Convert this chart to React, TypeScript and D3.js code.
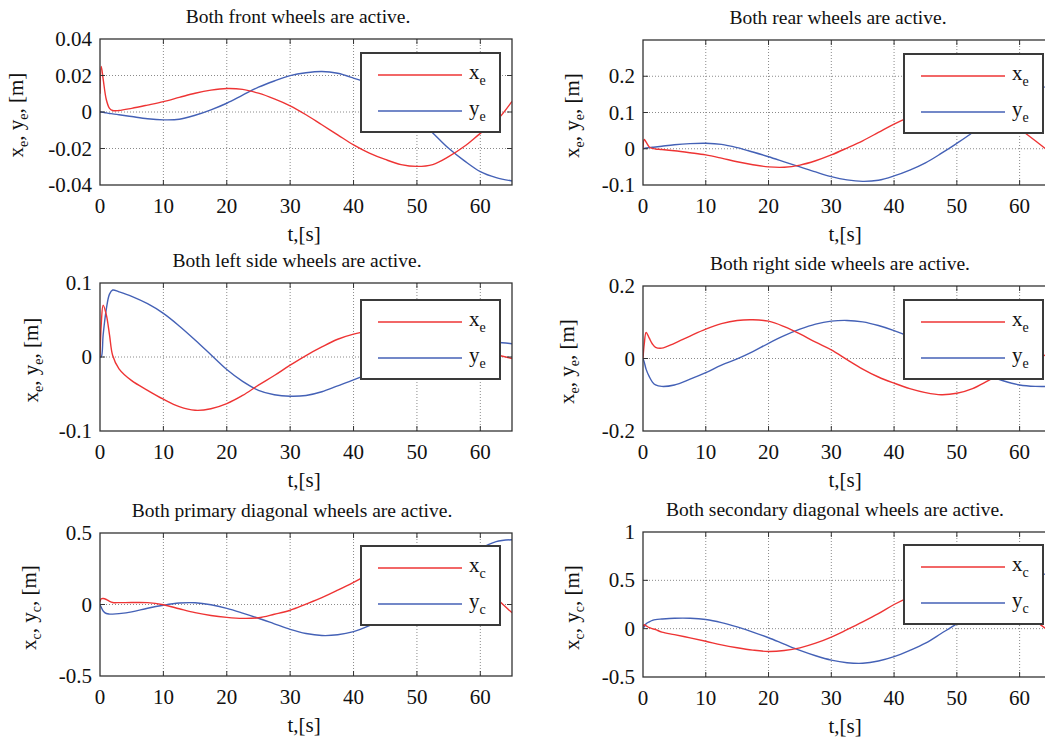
import React, { useEffect, useRef } from "react";
import * as d3 from "d3";

// time samples shared by every panel (s)
const tGrid = [0, 0.2, 0.5, 1, 1.5, 2, 3, 5, 7.5, 10, 12.5, 15, 17.5, 20, 22.5, 25, 27.5, 30, 32.5, 35, 37.5, 40, 42.5, 45, 47.5, 50, 52.5, 55, 57.5, 60, 62.5, 65];

// front wheels
const frontX = [0.010, 0.025, 0.018, 0.0067, 0.002, 0.0008, 0.0008, 0.002, 0.0038, 0.0057, 0.008, 0.0103, 0.012, 0.0129, 0.0124, 0.0103, 0.0072, 0.0034, -0.0015, -0.007, -0.0125, -0.018, -0.0225, -0.026, -0.0288, -0.0298, -0.0288, -0.0245, -0.0188, -0.0117, -0.005, 0.0058];
const frontY = [0, 0, -0.0002, -0.0005, -0.0008, -0.001, -0.0015, -0.0025, -0.0037, -0.0043, -0.004, -0.0018, 0.0012, 0.0048, 0.0092, 0.0136, 0.017, 0.0199, 0.0215, 0.0222, 0.0212, 0.0186, 0.0155, 0.0105, 0.004, -0.0035, -0.0115, -0.0199, -0.0268, -0.0327, -0.036, -0.0378];

// rear wheels
const rearX = [0, 0.026, 0.018, 0.005, 0.001, -0.0005, -0.002, -0.0055, -0.011, -0.017, -0.026, -0.036, -0.044, -0.05, -0.051, -0.045, -0.033, -0.017, 0.002, 0.022, 0.045, 0.068, 0.088, 0.105, 0.118, 0.125, 0.122, 0.11, 0.088, 0.055, 0.022, -0.012];
const rearY = [0, 0.001, 0.002, 0.003, 0.004, 0.005, 0.007, 0.011, 0.014, 0.015, 0.012, 0.003, -0.009, -0.022, -0.036, -0.05, -0.064, -0.077, -0.086, -0.09, -0.087, -0.075, -0.059, -0.039, -0.013, 0.015, 0.045, 0.08, 0.11, 0.14, 0.162, 0.175];

// left side wheels
const leftX = [0, 0.045, 0.07, 0.057, 0.03, 0.002, -0.016, -0.032, -0.045, -0.057, -0.067, -0.072, -0.07, -0.063, -0.052, -0.038, -0.025, -0.011, 0.002, 0.0136, 0.024, 0.031, 0.035, 0.035, 0.033, 0.029, 0.024, 0.019, 0.013, 0.008, 0.003, -0.002];
const leftY = [0, 0, 0.03, 0.065, 0.085, 0.0905, 0.088, 0.082, 0.072, 0.059, 0.042, 0.023, 0.003, -0.017, -0.033, -0.045, -0.051, -0.053, -0.052, -0.047, -0.039, -0.031, -0.022, -0.012, -0.004, 0.003, 0.009, 0.014, 0.018, 0.02, 0.02, 0.018];

// right side wheels
const rightX = [0, 0.04, 0.072, 0.056, 0.04, 0.031, 0.0285, 0.042, 0.062, 0.081, 0.096, 0.105, 0.107, 0.103, 0.088, 0.068, 0.045, 0.024, -0.003, -0.029, -0.051, -0.068, -0.083, -0.094, -0.1, -0.096, -0.083, -0.061, -0.038, -0.016, 0.001, 0.013];
const rightY = [0, -0.01, -0.03, -0.05, -0.065, -0.073, -0.077, -0.073, -0.057, -0.039, -0.018, -0.001, 0.019, 0.042, 0.063, 0.081, 0.095, 0.103, 0.105, 0.101, 0.091, 0.077, 0.06, 0.04, 0.018, -0.005, -0.027, -0.047, -0.062, -0.073, -0.077, -0.077];

// primary diagonal wheels
const primX = [0.02, 0.04, 0.042, 0.035, 0.022, 0.014, 0.013, 0.014, 0.013, -0.002, -0.03, -0.057, -0.077, -0.09, -0.097, -0.093, -0.068, -0.04, 0.003, 0.048, 0.1, 0.155, 0.215, 0.27, 0.31, 0.33, 0.33, 0.3, 0.24, 0.16, 0.045, -0.058];
const primY = [0, -0.02, -0.045, -0.063, -0.067, -0.067, -0.064, -0.052, -0.026, -0.005, 0.01, 0.012, -0.002, -0.027, -0.06, -0.096, -0.135, -0.174, -0.203, -0.217, -0.212, -0.19, -0.148, -0.095, -0.03, 0.05, 0.14, 0.23, 0.31, 0.39, 0.44, 0.453];

// secondary diagonal wheels
const secX = [0.02, 0.04, 0.03, 0.01, 0, -0.01, -0.035, -0.062, -0.095, -0.13, -0.168, -0.198, -0.222, -0.236, -0.226, -0.198, -0.15, -0.087, -0.01, 0.07, 0.155, 0.25, 0.33, 0.4, 0.45, 0.47, 0.45, 0.4, 0.31, 0.2, 0.08, -0.04];
const secY = [0, 0.02, 0.05, 0.07, 0.085, 0.094, 0.1, 0.108, 0.108, 0.095, 0.063, 0.018, -0.035, -0.094, -0.16, -0.225, -0.28, -0.325, -0.352, -0.358, -0.335, -0.29, -0.225, -0.15, -0.05, 0.052, 0.17, 0.3, 0.41, 0.5, 0.55, 0.57];

const xTicks = [0, 10, 20, 30, 40, 50, 60];

const titles = [
  "Both front wheels are active.",
  "Both rear wheels are active.",
  "Both left side wheels are active.",
  "Both right side wheels are active.",
  "Both primary diagonal wheels are active.",
  "Both secondary diagonal wheels are active.",
];

const yTicksFront = [-0.04, -0.02, 0, 0.02, 0.04];
const yTicksRear = [-0.1, 0, 0.1, 0.2];
const yTicksLeft = [-0.1, 0, 0.1];
const yTicksRight = [-0.2, 0, 0.2];
const yTicksPrim = [-0.5, 0, 0.5];
const yTicksSec = [-0.5, 0, 0.5, 1];

// layout of each subplot (page pixels)
const panels = [
  { title: titles[0], xs: frontX, ys: frontY, dom: [-0.04, 0.04], ticks: yTicksFront, sub: "e", l: 100, t: 39, r: 512, b: 185, legTop: 53, yLabX: 16, titleX: 298 },
  { title: titles[1], xs: rearX, ys: rearY, dom: [-0.1, 0.3], ticks: yTicksRear, sub: "e", l: 643, t: 40, r: 1051, b: 185, legTop: 54, yLabX: 572, titleX: 838 },
  { title: titles[2], xs: leftX, ys: leftY, dom: [-0.1, 0.1], ticks: yTicksLeft, sub: "e", l: 100, t: 283, r: 512, b: 431, legTop: 300, yLabX: 31, titleX: 297 },
  { title: titles[3], xs: rightX, ys: rightY, dom: [-0.2, 0.2], ticks: yTicksRight, sub: "e", l: 643, t: 286, r: 1051, b: 431, legTop: 300, yLabX: 567, titleX: 840 },
  { title: titles[4], xs: primX, ys: primY, dom: [-0.5, 0.5], ticks: yTicksPrim, sub: "c", l: 100, t: 533, r: 512, b: 676, legTop: 546, yLabX: 29, titleX: 292 },
  { title: titles[5], xs: secX, ys: secY, dom: [-0.5, 1], ticks: yTicksSec, sub: "c", l: 643, t: 532, r: 1051, b: 677, legTop: 545, yLabX: 572, titleX: 835 },
];

const RED = "#ee3434";
const BLUE = "#4461b6";
const FONT = "'Liberation Serif', 'Times New Roman', serif";

export default function App() {
  const ref = useRef<SVGSVGElement>(null);

  useEffect(() => {
    const svg = d3.select(ref.current);
    svg.selectAll("*").remove();

    panels.forEach((p, i) => {
      const x = d3.scaleLinear().domain([0, 65]).range([p.l, p.r]);
      const y = d3.scaleLinear().domain(p.dom).range([p.b, p.t]);
      const g = svg.append("g").style("font-family", FONT);

      const clipId = "clip" + i;
      g.append("clipPath").attr("id", clipId)
        .append("rect")
        .attr("x", p.l).attr("y", p.t)
        .attr("width", p.r - p.l).attr("height", p.b - p.t);

      // dotted grid
      g.append("g").selectAll("line")
        .data(xTicks.filter(d => d > 0))
        .join("line")
        .attr("x1", d => x(d)).attr("x2", d => x(d))
        .attr("y1", p.t).attr("y2", p.b)
        .attr("stroke", "#8a8a8a").attr("stroke-width", 1)
        .attr("stroke-dasharray", "1,2");
      g.append("g").selectAll("line")
        .data(p.ticks.filter(d => d > p.dom[0] && d < p.dom[1]))
        .join("line")
        .attr("x1", p.l).attr("x2", p.r)
        .attr("y1", d => y(d)).attr("y2", d => y(d))
        .attr("stroke", "#8a8a8a").attr("stroke-width", 1)
        .attr("stroke-dasharray", "1,2");

      // curves
      const line = d3.line<number>()
        .x((_, k) => x(tGrid[k]))
        .y(d => y(d))
        .curve(d3.curveCatmullRom.alpha(0.5));
      const curves = g.append("g").attr("clip-path", `url(#${clipId})`);
      curves.append("path").attr("d", line(p.ys))
        .attr("fill", "none").attr("stroke", BLUE).attr("stroke-width", 1.4);
      curves.append("path").attr("d", line(p.xs))
        .attr("fill", "none").attr("stroke", RED).attr("stroke-width", 1.4);

      // box with inward ticks
      g.append("rect")
        .attr("x", p.l).attr("y", p.t)
        .attr("width", p.r - p.l).attr("height", p.b - p.t)
        .attr("fill", "none").attr("stroke", "#333").attr("stroke-width", 1.3);
      const tk = 5;
      g.append("g").selectAll("path")
        .data(xTicks.filter(d => d > 0))
        .join("path")
        .attr("d", d => `M${x(d)},${p.b}v${-tk}M${x(d)},${p.t}v${tk}`)
        .attr("stroke", "#333").attr("stroke-width", 1);
      g.append("g").selectAll("path")
        .data(p.ticks.filter(d => d > p.dom[0] && d < p.dom[1]))
        .join("path")
        .attr("d", d => `M${p.l},${y(d)}h${tk}M${p.r},${y(d)}h${-tk}`)
        .attr("stroke", "#333").attr("stroke-width", 1);

      // tick labels
      g.append("g").selectAll("text")
        .data(xTicks)
        .join("text")
        .attr("x", d => x(d)).attr("y", p.b + 28)
        .attr("text-anchor", "middle")
        .attr("font-size", 21).attr("fill", "#111")
        .text(d => String(d));
      g.append("g").selectAll("text")
        .data(p.ticks)
        .join("text")
        .attr("x", p.l - 8).attr("y", d => y(d))
        .attr("dy", "0.34em")
        .attr("text-anchor", "end")
        .attr("font-size", 21).attr("fill", "#111")
        .text(d => String(d));

      // title and axis labels
      g.append("text")
        .attr("x", p.titleX).attr("y", p.t - 16)
        .attr("text-anchor", "middle")
        .attr("font-size", 19.5).attr("fill", "#111")
        .text(p.title);
      g.append("text")
        .attr("x", (p.l + p.r) / 2 - 2).attr("y", p.b + 56)
        .attr("text-anchor", "middle")
        .attr("font-size", 21).attr("fill", "#111")
        .text("t,[s]");

      const cy = (p.t + p.b) / 2 + 3;
      const yl = g.append("text")
        .attr("transform", `translate(${p.yLabX + 7},${cy}) rotate(-90)`)
        .attr("text-anchor", "middle")
        .attr("font-size", 21).attr("fill", "#111");
      yl.append("tspan").text("x");
      yl.append("tspan").attr("dy", 5).attr("font-size", 14).text(p.sub);
      yl.append("tspan").attr("dy", -5).text(", y");
      yl.append("tspan").attr("dy", 5).attr("font-size", 14).text(p.sub);
      yl.append("tspan").attr("dy", -5).text(", [m]");

      // legend
      const lx = p.l + 261;
      const leg = g.append("g").attr("transform", `translate(${lx},${p.legTop})`);
      leg.append("rect")
        .attr("width", 139).attr("height", 79)
        .attr("fill", "#fff").attr("stroke", "#3a3a3a").attr("stroke-width", 2);
      [["x", RED, 22], ["y", BLUE, 58]].forEach(([name, col, ry]) => {
        leg.append("line")
          .attr("x1", 17).attr("x2", 101)
          .attr("y1", ry as number).attr("y2", ry as number)
          .attr("stroke", col as string).attr("stroke-width", 1.5);
        const lt = leg.append("text")
          .attr("x", 108).attr("y", (ry as number) + 4)
          .attr("font-size", 21).attr("fill", "#111");
        lt.append("tspan").text(name as string);
        lt.append("tspan").attr("dy", 6).attr("font-size", 14).text(p.sub);
      });
    });
  }, []);

  return (
    <svg
      ref={ref}
      width={1045}
      height={742}
      style={{ position: "absolute", left: 0, top: 0, background: "#fff" }}
    />
  );
}
